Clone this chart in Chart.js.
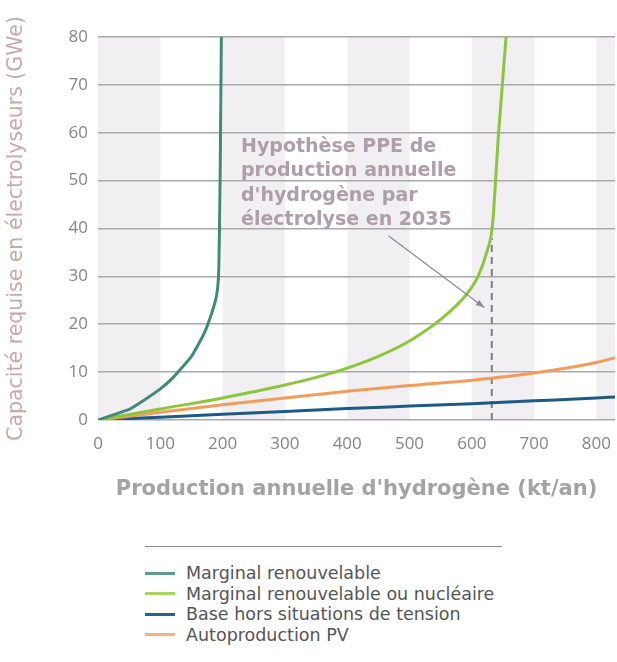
<!DOCTYPE html>
<html>
<head>
<meta charset="utf-8">
<script src="https://cdn.jsdelivr.net/npm/chart.js@4"></script>
<style>
  body { margin: 0; background: #fff; width: 617px; height: 662px; overflow: hidden; position: relative; font-family: "DejaVu Sans", sans-serif; }
  #wrap { position: absolute; left: 0; top: 0; width: 617px; height: 520px; }
  #legend { position: absolute; left: 145px; top: 546px; width: 357px; border-top: 1px solid #8a8a8a; padding-top: 16px; }
  .item { display: flex; align-items: center; height: 20.5px; font-size: 17.5px; color: #555; white-space: nowrap; }
  .item span.mark { display: inline-block; flex: none; width: 30px; height: 3px; margin-right: 11px; }
</style>
</head>
<body>
<div id="wrap"><canvas id="chart" width="617" height="520"></canvas></div>
<div id="legend"></div>
<script>
// --- Données ---
const seriesNames = [
  "Marginal renouvelable",
  "Marginal renouvelable ou nucléaire",
  "Base hors situations de tension",
  "Autoproduction PV"
];
const seriesColors = ["#3f8a78", "#8cc63f", "#1d5a85", "#f39c5a"];
const legendColors = ["#5f9a8a", "#a9d36a", "#2a5f8c", "#f5b07c"];

// Marginal renouvelable
const xMargRenouv = [0, 50, 70, 100, 120, 150, 170, 183, 191, 194, 196, 198];
const yMargRenouv = [0, 2.2, 3.8, 6.5, 8.8, 13.3, 18, 22.5, 26.5, 32, 50, 80];
// Marginal renouvelable ou nucléaire
const xMargNucl = [0, 100, 200, 300, 380, 450, 500, 550, 590, 610, 625, 633, 643, 655];
const yMargNucl = [0, 2.3, 4.6, 7.3, 10, 13.3, 16.5, 21, 26, 30, 35.5, 40.5, 60, 80];
// Base hors situations de tension
const xBase = [0, 100, 200, 300, 400, 500, 600, 700, 800, 830];
const yBase = [0, 0.6, 1.2, 1.8, 2.4, 2.9, 3.4, 4.0, 4.6, 4.8];
// Autoproduction PV
const xPV = [0, 100, 200, 300, 400, 500, 600, 700, 800, 830];
const yPV = [0, 1.6, 3.2, 4.6, 6.0, 7.2, 8.3, 9.8, 12.0, 13.0];

const xTicks = [0, 100, 200, 300, 400, 500, 600, 700, 800];
const yTicks = [0, 10, 20, 30, 40, 50, 60, 70, 80];
const greyBands = [[0, 100], [200, 300], [400, 500], [600, 700], [800, 900]];

// Hypothèse PPE 2035
const ppeX = 632;
const ppeTop = 38;
const annotationLines = ["Hypothèse PPE de", "production annuelle", "d'hydrogène par", "électrolyse en 2035"];
const arrowFrom = [466, 38.5];
const arrowTo = [620, 23.5];

function pts(xs, ys) { return xs.map((x, i) => ({ x: x, y: ys[i] })); }

const allX = [xMargRenouv, xMargNucl, xBase, xPV];
const allY = [yMargRenouv, yMargNucl, yBase, yPV];

const datasets = seriesNames.map((name, i) => ({
  label: name,
  data: pts(allX[i], allY[i]),
  borderColor: seriesColors[i],
  borderWidth: 3,
  pointRadius: 0,
  tension: i === 0 ? 0.15 : 0,
  cubicInterpolationMode: i === 0 ? "default" : "monotone",
  order: i === 2 ? 4 : i
}));
// ligne verticale pointillée
datasets.push({
  label: "PPE",
  data: [{ x: ppeX, y: 0 }, { x: ppeX, y: ppeTop }],
  borderColor: "#7d7d85",
  borderWidth: 2,
  borderDash: [7, 5],
  pointRadius: 0,
  order: 5
});

const bandsPlugin = {
  id: "bands",
  beforeDraw(chart) {
    const { ctx, chartArea, scales } = chart;
    ctx.save();
    ctx.fillStyle = "#f1eff1";
    greyBands.forEach(b => {
      const x0 = Math.max(scales.x.getPixelForValue(b[0]), chartArea.left);
      const x1 = Math.min(scales.x.getPixelForValue(b[1]), chartArea.right);
      if (x1 > x0) ctx.fillRect(x0, chartArea.top, x1 - x0, chartArea.bottom - chartArea.top);
    });
    ctx.restore();
  }
};

const annotationPlugin = {
  id: "annot",
  afterDatasetsDraw(chart) {
    const { ctx, scales } = chart;
    ctx.save();
    // flèche
    const ax0 = scales.x.getPixelForValue(arrowFrom[0]), ay0 = scales.y.getPixelForValue(arrowFrom[1]);
    const ax1 = scales.x.getPixelForValue(arrowTo[0]), ay1 = scales.y.getPixelForValue(arrowTo[1]);
    ctx.strokeStyle = "#8a8a90";
    ctx.fillStyle = "#8a8a90";
    ctx.lineWidth = 1.2;
    ctx.beginPath(); ctx.moveTo(ax0, ay0); ctx.lineTo(ax1, ay1); ctx.stroke();
    const ang = Math.atan2(ay1 - ay0, ax1 - ax0);
    ctx.beginPath();
    ctx.moveTo(ax1, ay1);
    ctx.lineTo(ax1 - 9 * Math.cos(ang - 0.35), ay1 - 9 * Math.sin(ang - 0.35));
    ctx.lineTo(ax1 - 9 * Math.cos(ang + 0.35), ay1 - 9 * Math.sin(ang + 0.35));
    ctx.closePath(); ctx.fill();
    // texte
    ctx.font = "bold 19px 'DejaVu Sans'";
    ctx.fillStyle = "#ae9eaa";
    ctx.textBaseline = "middle";
    const tx = 241, ty = 147;
    annotationLines.forEach((l, i) => ctx.fillText(l, tx, ty + i * 24.3));
    ctx.restore();
  }
};

new Chart(document.getElementById("chart"), {
  type: "line",
  data: { datasets: datasets },
  plugins: [bandsPlugin, annotationPlugin],
  options: {
    responsive: false,
    animation: false,
    layout: { padding: { top: 37, right: 0, left: 0, bottom: 0 } },
    plugins: { legend: { display: false }, tooltip: { enabled: false } },
    scales: {
      x: {
        type: "linear",
        min: 0,
        max: 830,
        afterFit(s) { s.height = 100; },
        afterBuildTicks(s) { s.ticks = xTicks.map(v => ({ value: v })); },
        grid: { display: false },
        border: { display: false },
        ticks: { padding: 6, color: "#858585", font: { family: "Open Sans", size: 17 } },
        title: {
          display: true,
          text: "Production annuelle d'hydrogène (kt/an)",
          color: "#a3a3a3",
          font: { family: "DejaVu Sans", size: 21, weight: "bold" },
          padding: { top: 0, bottom: 18 }
        }
      },
      y: {
        min: 0,
        max: 80,
        afterFit(s) { s.width = 98; },
        afterBuildTicks(s) { s.ticks = yTicks.map(v => ({ value: v })); },
        grid: { color: "#a9a9a9", lineWidth: 1.6, drawTicks: false },
        border: { display: false },
        ticks: { padding: 10, color: "#858585", font: { family: "Open Sans", size: 17 } },
        title: {
          display: true,
          text: "Capacité requise en électrolyseurs (GWe)",
          color: "#c8aaa8",
          font: { family: "DejaVu Sans", size: 20.5 },
          padding: { top: 4, bottom: 0 }
        }
      }
    }
  }
});

// --- Légende ---
const legend = document.getElementById("legend");
seriesNames.forEach((name, i) => {
  const row = document.createElement("div");
  row.className = "item";
  row.innerHTML = `<span class="mark" style="background:${legendColors[i]}"></span>${name}`;
  legend.appendChild(row);
});
</script>
</body>
</html>
